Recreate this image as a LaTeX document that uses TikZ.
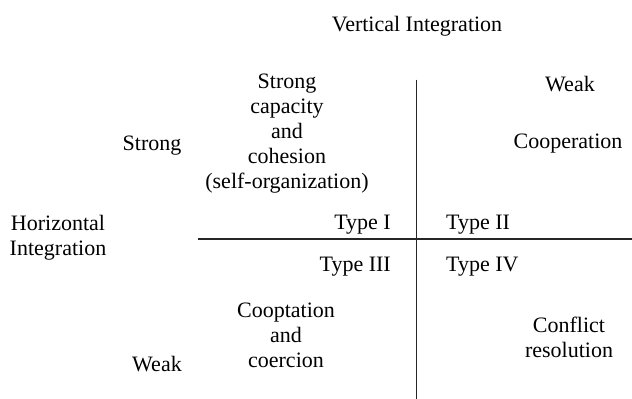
\documentclass[tikz,border=0pt]{standalone}
\usepackage{fontspec}
\setmainfont{Liberation Serif}
\begin{document}
\begin{tikzpicture}[x=1pt,y=-1pt,
  lbl/.style={inner sep=0pt,align=center,font=\fontsize{22}{25}\selectfont},
  axis/.style={line width=1.4pt,draw=black!85}]
\useasboundingbox (0,0) rectangle (632,399);

% axes
\coordinate (vtop) at (416.7,79.5);
\coordinate (vbot) at (416.7,399);
\coordinate (hleft) at (198,239);
\coordinate (hright) at (632,239);
\draw[axis] (vtop) -- (vbot);
\draw[axis] (hleft) -- (hright);

% axis titles
\node[lbl] (vint) at (417,26) {Vertical Integration};
\node[lbl] (hint) at (58,238) {Horizontal\\Integration};

% strength labels
\node[lbl] (hstrong) at (152,146) {Strong};
\node[lbl] (hweak) at (157,364) {Weak};
\node[lbl] (vweak) at (570,84) {Weak};

% quadrant contents
\node[lbl] (q1) at (287,134) {Strong\\capacity\\and\\cohesion\\(self-organization)};
\node[lbl] (q2) at (568,144) {Cooperation};
\node[lbl] (q3) at (286,335) {Cooptation\\and\\coercion};
\node[lbl] (q4) at (569,337) {Conflict\\resolution};

% type labels
\node[lbl,anchor=east] (t1) at (391,225) {Type I};
\node[lbl,anchor=west] (t2) at (446,225) {Type II};
\node[lbl,anchor=east] (t3) at (391,267) {Type III};
\node[lbl,anchor=west] (t4) at (446,267) {Type IV};
\end{tikzpicture}
\end{document}
